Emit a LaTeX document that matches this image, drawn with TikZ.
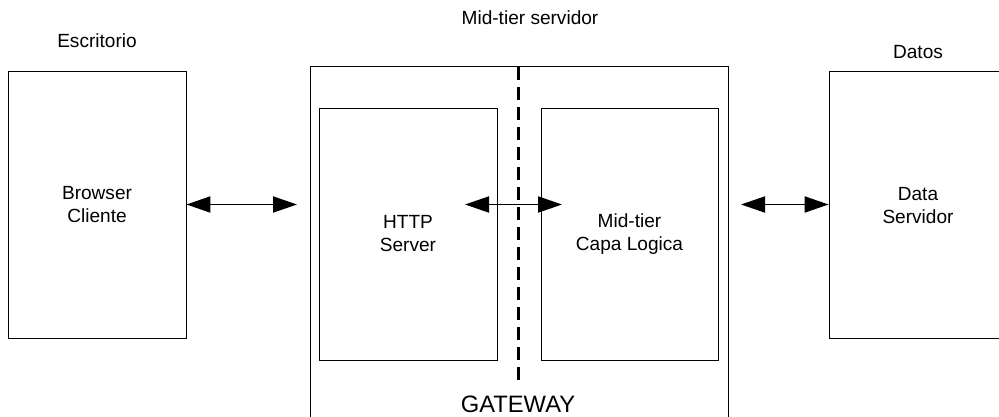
\documentclass[tikz,border=0pt]{standalone}
\usepackage{fontspec}
\setmainfont{Liberation Sans}
\usetikzlibrary{positioning, arrows.meta}

\begin{document}
\begin{tikzpicture}[x=0.75pt, y=-0.75pt,
    box/.style={draw, line width=0.6pt, inner sep=0pt, align=center, font=\fontsize{14.3}{17.25}\selectfont},
    lbl/.style={anchor=base, inner sep=0pt, font=\fontsize{14.3}{17.25}\selectfont},
    link/.style={{Triangle[length=18pt, width=12pt]}-{Triangle[length=18pt, width=12pt]}, line width=1.4pt},
    cut/.style={line width=2.25pt, dash pattern=on 9.75pt off 5.25pt}]
    \useasboundingbox (0,0) rectangle (999,417);
    \clip (0,0) rectangle (999,417);

    \node[box, minimum width=133.5pt, minimum height=200.25pt] (client) at (97,204.5) {Browser\\Cliente};
    \node[box, minimum width=313.5pt, minimum height=265.5pt] (mid) at (519,243) {};
    \node[box, minimum width=133.5pt, minimum height=189pt] (http) at (408,234) {HTTP\\Server};
    \node[box, minimum width=132.75pt, minimum height=189pt] (logic) at (629.5,234) {Mid-tier\\Capa Logica};
    \node[box, minimum width=142.5pt, minimum height=200.25pt] (data) at (924,204.5) {};
    \node[inner sep=0pt, align=center, font=\fontsize{14.3}{17.25}\selectfont] (datatxt) at (918,206) {Data\\Servidor};

    \node[lbl] (escr) at (97,48) {Escritorio};
    \node[lbl] (midt) at (530,25) {Mid-tier servidor};
    \node[lbl] (datos) at (918,59) {Datos};
    \node[lbl, font=\fontsize{17.8}{21}\selectfont] (gate) at (518,412) {GATEWAY};

    \coordinate (cuttop) at (518,67);
    \coordinate (cutbot) at (518,380);
    \coordinate (midin) at (297,204.5);
    \coordinate (midout) at (741,204.5);
    \coordinate (httpin) at (465,204.5);
    \coordinate (logicin) at (562,204.5);

    \draw[cut] (cuttop) -- (cutbot);
    \draw[link] (client.east) -- (midin);
    \draw[link] (httpin) -- (logicin);
    \draw[link] (midout) -- (data.west);
\end{tikzpicture}
\end{document}
